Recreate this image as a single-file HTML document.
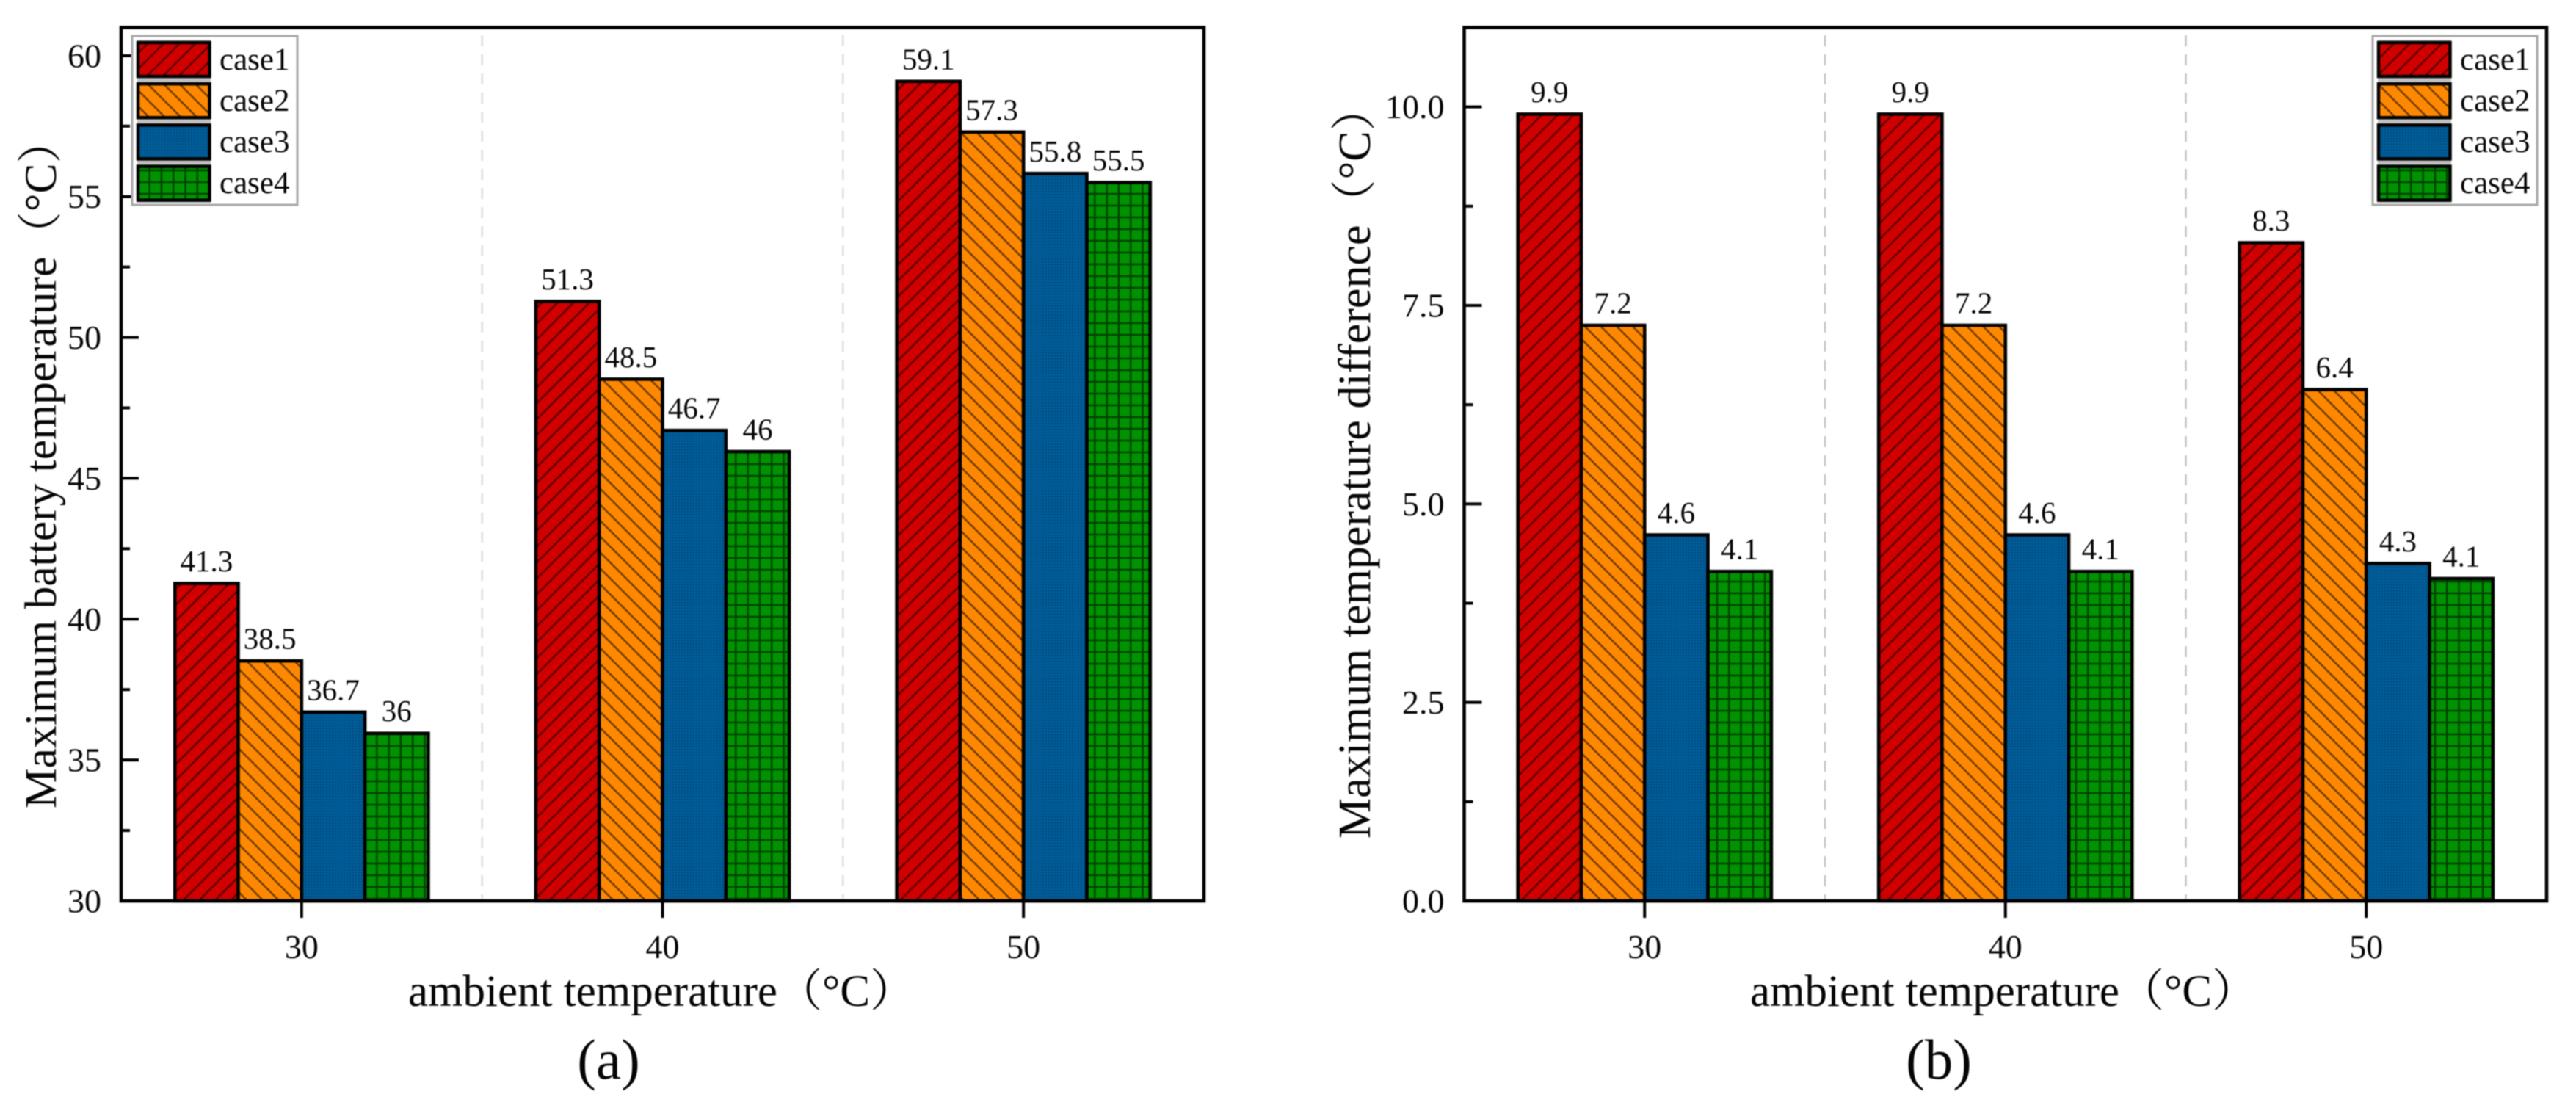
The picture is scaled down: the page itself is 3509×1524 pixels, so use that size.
<!DOCTYPE html>
<html lang="en">
<head>
<meta charset="utf-8">
<title>Maximum battery temperature and temperature difference by ambient temperature</title>
<style>
  html, body { margin: 0; padding: 0; background: #fff; }
  #figure { display: block; width: 3509px; height: 1524px; filter: blur(0.9px); }
  text { font-family: "Liberation Serif", "Noto Serif CJK SC", serif; fill: #050505; }
  .tick { font-size: 46px; }
  .val { font-size: 41px; text-anchor: middle; }
  .leg { font-size: 43px; }
  .title { font-size: 61px; }
  .panel-label { font-size: 77px; text-anchor: middle; }
</style>
</head>
<body>
<svg id="figure" xmlns="http://www.w3.org/2000/svg" width="3509" height="1524" viewBox="0 0 3509 1524">
  <defs>
    <pattern id="h-red" patternUnits="userSpaceOnUse" width="21.7" height="21.7">
      <rect width="21.7" height="21.7" fill="#d00000"/>
      <path d="M-2,2 L2,-2 M0,21.7 L21.7,0 M19.7,23.7 L23.7,19.7" stroke="#5c0000" stroke-width="2.4"/>
    </pattern>
    <pattern id="h-orange" patternUnits="userSpaceOnUse" width="21.7" height="21.7">
      <rect width="21.7" height="21.7" fill="#ff8800"/>
      <path d="M-2,19.7 L2,23.7 M0,0 L21.7,21.7 M19.7,-2 L23.7,2" stroke="#6a3a00" stroke-width="2.4"/>
    </pattern>
    <pattern id="h-blue" patternUnits="userSpaceOnUse" width="4" height="4">
      <rect width="4" height="4" fill="#005c98"/>
      <rect width="1.5" height="1.5" fill="#00406e"/>
    </pattern>
    <pattern id="h-green" patternUnits="userSpaceOnUse" width="16.3" height="16">
      <rect width="16.3" height="16" fill="#009200"/>
      <path d="M8,0 V16 M0,8 H16.3" stroke="#004400" stroke-width="2.6"/>
    </pattern>
  </defs>

  <rect x="0" y="0" width="3509" height="1524" fill="#fff"/>

  <g id="panel-a"></g>
  <g id="panel-b"></g>

  <text class="title" transform="rotate(-90 76 1101)" x="76" y="1101" style="font-size:61.5px">Maximum battery temperature（°C）</text>
  <text class="title" x="556" y="1370">ambient temperature（°C）</text>
  <text class="panel-label" x="829" y="1469">(a)</text>

  <text class="title" transform="rotate(-90 1866 1142)" x="1866" y="1142" style="font-size:62px">Maximum temperature difference（°C）</text>
  <text class="title" x="2384" y="1370">ambient temperature（°C）</text>
  <text class="panel-label" x="2641" y="1469">(b)</text>
</svg>

<script>
// ---- chart data ----
const categories = ['30', '40', '50'];
const seriesNames = ['case1', 'case2', 'case3', 'case4'];

const tempCase1 = [41.27, 51.28, 59.09];
const tempCase2 = [38.52, 48.52, 57.29];
const tempCase3 = [36.7, 46.7, 55.82];
const tempCase4 = [35.95, 45.95, 55.5];
const tempPrinted1 = ['41.3', '51.3', '59.1'];
const tempPrinted2 = ['38.5', '48.5', '57.3'];
const tempPrinted3 = ['36.7', '46.7', '55.8'];
const tempPrinted4 = ['36', '46', '55.5'];
const tempMajorTicks = [30, 35, 40, 45, 50, 55, 60];
const tempMinorTicks = [32.5, 37.5, 42.5, 47.5, 52.5, 57.5];
const tempTickLabels = ['30', '35', '40', '45', '50', '55', '60'];

const diffCase1 = [9.91, 9.91, 8.29];
const diffCase2 = [7.25, 7.25, 6.44];
const diffCase3 = [4.61, 4.61, 4.25];
const diffCase4 = [4.15, 4.15, 4.06];
const diffPrinted1 = ['9.9', '9.9', '8.3'];
const diffPrinted2 = ['7.2', '7.2', '6.4'];
const diffPrinted3 = ['4.6', '4.6', '4.3'];
const diffPrinted4 = ['4.1', '4.1', '4.1'];
const diffMajorTicks = [0, 2.5, 5, 7.5, 10];
const diffMinorTicks = [1.25, 3.75, 6.25, 8.75];
const diffTickLabels = ['0.0', '2.5', '5.0', '7.5', '10.0'];

// ---- layout and drawing ----
const SVGNS = 'http://www.w3.org/2000/svg';
const barFills = ['url(#h-red)', 'url(#h-orange)', 'url(#h-blue)', 'url(#h-green)'];

function mk(parent, tag, attrs, content) {
  const el = document.createElementNS(SVGNS, tag);
  for (const k in attrs) el.setAttribute(k, attrs[k]);
  if (content !== undefined) el.textContent = content;
  parent.appendChild(el);
  return el;
}

function drawPanel(cfg) {
  const g = document.getElementById(cfg.id);
  const top = 37.5, bottom = 1227;
  const y = v => bottom - (v - cfg.yMin) / (cfg.yMax - cfg.yMin) * (bottom - top);
  const step = (cfg.right - cfg.left) / categories.length;
  const xCenter = i => cfg.left + step * (i + 0.5);
  const barW = 86.3;
  const barX = (c, s) => xCenter(c) + (s - 2) * barW;

  // group separators
  for (let i = 1; i < categories.length; i++) {
    const x = cfg.left + step * i;
    const sep = mk(g, 'line', { x1: x, x2: x, y1: 48, y2: bottom, stroke: cfg.gridColor, 'stroke-width': 2.5, 'stroke-dasharray': '15 11' });
    
    
  }

  // bars and printed values
  cfg.series.forEach((values, s) => {
    values.forEach((v, c) => {
      const rect = mk(g, 'rect', {
        x: barX(c, s), y: y(v), width: barW, height: bottom - y(v),
        fill: barFills[s], stroke: '#000', 'stroke-width': 4.6
      });
      
      
    });
  });
  cfg.series.forEach((values, s) => {
    values.forEach((v, c) => {
      const label = mk(g, 'text', { class: 'val', x: barX(c, s) + barW / 2, y: y(v) - 16.5 }, cfg.printed[s][c]);
      
      
    });
  });

  // frame
  const frame = mk(g, 'rect', { x: cfg.left, y: top, width: cfg.right - cfg.left, height: bottom - top, fill: 'none', stroke: '#000', 'stroke-width': 4.6 });
  
  

  // y ticks
  cfg.majorTicks.forEach((v, i) => {
    const t = mk(g, 'line', { x1: cfg.left, x2: cfg.left + 24, y1: y(v), y2: y(v), stroke: '#000', 'stroke-width': 4 });
    
    
    const lab = mk(g, 'text', { class: 'tick', x: cfg.left - 27, y: y(v) + 15.5, 'text-anchor': 'end' }, cfg.tickLabels[i]);
    
    
  });
  cfg.minorTicks.forEach(v => {
    const t = mk(g, 'line', { x1: cfg.left, x2: cfg.left + 12, y1: y(v), y2: y(v), stroke: '#000', 'stroke-width': 4 });
    
    
  });

  // x ticks
  categories.forEach((cat, i) => {
    const x = xCenter(i);
    const t = mk(g, 'line', { x1: x, x2: x, y1: bottom, y2: bottom + 23, stroke: '#000', 'stroke-width': 4 });
    
    
    const lab = mk(g, 'text', { class: 'tick', x: x, y: 1305, 'text-anchor': 'middle' }, cat);
    
    
  });

  // legend
  const lx = cfg.legendX;
  const box = mk(g, 'rect', { x: lx, y: 49, width: cfg.legendW, height: 230, fill: '#fff', stroke: '#a8a8a8', 'stroke-width': 3 });
  
  
  const halo = mk(g, 'rect', { x: lx + 7, y: 54, width: 100, height: 222, fill: '#c0c0c0' });
  
  
  seriesNames.forEach((name, s) => {
    const sw = mk(g, 'rect', { x: lx + 8, y: 58 + s * 56.2, width: 97.5, height: 46, fill: barFills[s], stroke: '#000', 'stroke-width': 4.5 });
    
    
    const lab = mk(g, 'text', { class: 'leg', x: lx + 119, y: 95 + s * 56 }, name);
    
    
  });
}

drawPanel({
  id: 'panel-a', left: 165, right: 1640, yMin: 30, yMax: 61, gridColor: '#dcdcdc',
  legendX: 180, legendW: 225,
  series: [tempCase1, tempCase2, tempCase3, tempCase4],
  printed: [tempPrinted1, tempPrinted2, tempPrinted3, tempPrinted4],
  majorTicks: tempMajorTicks, minorTicks: tempMinorTicks, tickLabels: tempTickLabels
});
drawPanel({
  id: 'panel-b', left: 1994.5, right: 3469, yMin: 0, yMax: 11, gridColor: '#c4c4c4',
  legendX: 3232, legendW: 224,
  series: [diffCase1, diffCase2, diffCase3, diffCase4],
  printed: [diffPrinted1, diffPrinted2, diffPrinted3, diffPrinted4],
  majorTicks: diffMajorTicks, minorTicks: diffMinorTicks, tickLabels: diffTickLabels
});
</script>
</body>
</html>
